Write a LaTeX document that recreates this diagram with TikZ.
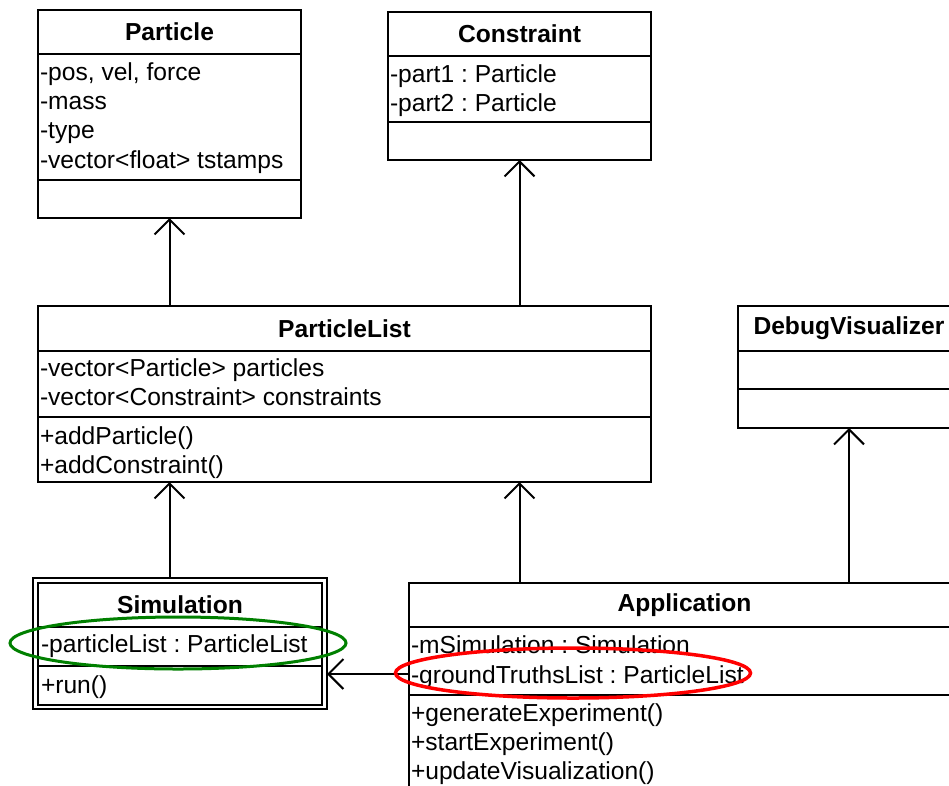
\documentclass[tikz,border=0pt]{standalone}
\usepackage{fontspec}
\setmainfont{Liberation Sans}
\usetikzlibrary{arrows.meta,shapes.geometric}
\definecolor{hlgreen}{RGB}{0,128,0}
\frenchspacing
\begin{document}
\begin{tikzpicture}[x=1pt,y=-1pt,
  comp/.style={draw, line width=2.1pt, anchor=north west, inner sep=0pt, outer sep=0pt},
  hdr/.style={comp, font=\bfseries},
  mem/.style={anchor=base west, inner sep=0pt, outer sep=0pt},
  inh/.style={line width=2pt, -{Straight Barb[length=15pt,width=30pt,line width=2pt]}},
  hlring/.style={ellipse, draw, line width=3pt, inner sep=0pt}]
\useasboundingbox (0,0) rectangle (949,785);
\clip (0,0) rectangle (949,785);
\fontsize{24.6}{29}\selectfont\frenchspacing
% Particle
\node[hdr, minimum width=263pt, minimum height=44pt] (P) at (38,10) {Particle};
\node[comp, minimum width=263pt, minimum height=126pt] (Pa) at (38,54) {};
\node[comp, minimum width=263pt, minimum height=38pt] (Pm) at (38,180) {};
\node[mem] (pa1) at (40,80) {-pos, vel, force};
\node[mem] (pa2) at (40,109) {-mass};
\node[mem] (pa3) at (40,138) {-type};
\node[mem] (pa4) at (40,168) {-vector<float> tstamps};
% Constraint
\node[hdr, minimum width=263pt, minimum height=44pt] (C) at (388,12) {Constraint};
\node[comp, minimum width=263pt, minimum height=66pt] (Ca) at (388,56) {};
\node[comp, minimum width=263pt, minimum height=38pt] (Cm) at (388,122) {};
\node[mem] (ca1) at (390,82) {-part1 : Particle};
\node[mem] (ca2) at (390,111) {-part2 : Particle};
% ParticleList
\node[hdr, minimum width=613pt, minimum height=45pt] (PL) at (38,306) {ParticleList};
\node[comp, minimum width=613pt, minimum height=66pt] (PLa) at (38,351) {};
\node[comp, minimum width=613pt, minimum height=65pt] (PLm) at (38,417) {};
\node[mem] (pla1) at (40,376) {-vector<Particle> particles};
\node[mem] (pla2) at (40,405) {-vector<Constraint> constraints};
\node[mem] (plm1) at (40,444) {+addParticle()};
\node[mem] (plm2) at (40,473) {+addConstraint()};
% DebugVisualizer
\node[hdr, minimum width=222pt, minimum height=45pt] (DV) at (738,306) {DebugVisualizer};
\node[comp, minimum width=222pt, minimum height=38pt] (DVa) at (738,351) {};
\node[comp, minimum width=222pt, minimum height=39pt] (DVm) at (738,389) {};
% Simulation
\node[comp, line width=1.8pt, minimum width=294pt, minimum height=131pt] (So) at (33,578) {};
\node[hdr, minimum width=284pt, minimum height=44pt] (S) at (38,583) {Simulation};
\node[comp, minimum width=284pt, minimum height=39pt] (Sa) at (38,627) {};
\node[comp, minimum width=284pt, minimum height=39pt] (Sm) at (38,666) {};
\node[mem] (sa1) at (41,652) {-particleList : ParticleList};
\node[mem] (sm1) at (41,693) {+run()};
% Application
\node[hdr, minimum width=551pt, minimum height=44pt] (A) at (409,583) {Application};
\node[comp, minimum width=551pt, minimum height=68pt] (Aa) at (409,627) {};
\node[comp, minimum width=551pt, minimum height=120pt] (Am) at (409,695) {};
\node[mem] (aa1) at (411,653) {-mSimulation : Simulation};
\node[mem] (aa2) at (411,683) {-groundTruthsList : ParticleList};
\node[mem] (am1) at (411,721) {+generateExperiment()};
\node[mem] (am2) at (411,750) {+startExperiment()};
\node[mem] (am3) at (411,779) {+updateVisualization()};
\coordinate (arow) at (409,674);
% connectors
\draw[inh] (PL.north -| Pm.south) -- (Pm.south);
\draw[inh] (PL.north -| Cm.south) -- (Cm.south);
\draw[inh] (So.north -| Pm.south) -- (PLm.south -| Pm.south);
\draw[inh] (A.north -| Cm.south) -- (PLm.south -| Cm.south);
\draw[inh] (A.north -| DVm.south) -- (DVm.south);
\draw[inh] (arow) -- (arow -| So.east);
% highlight ellipses
\node[hlring, draw=hlgreen, minimum width=336pt, minimum height=52pt] (g) at (178,643) {};
\node[hlring, draw=red, line width=3.5pt, minimum width=355pt, minimum height=50pt] (r) at (573,673) {};
\end{tikzpicture}
\end{document}
